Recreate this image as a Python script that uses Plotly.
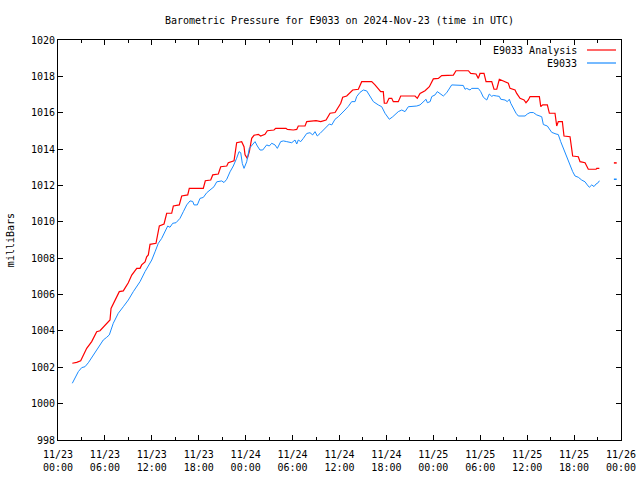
import pandas as pd
import plotly.graph_objects as go

# ---- data (hours since 2024-11-23 00:00 UTC, pressure in mb) ----
start = pd.Timestamp("2024-11-23 00:00")

analysis_hours = [1.83, 2.39, 2.90, 3.16, 3.67, 4.31, 4.95, 5.37, 5.79, 6.43, 6.65, 6.78, 7.29, 7.84,
                  8.35, 8.99, 9.43, 10.07, 10.49, 10.70, 11.13, 11.34, 11.55, 11.77, 12.53, 12.96,
                  13.56, 13.90, 14.54, 14.75, 15.51, 15.82, 16.59, 16.79, 18.58, 18.84, 19.53, 19.79,
                  20.50, 20.81, 21.58, 21.78, 22.51, 22.85, 23.49, 23.79, 23.92, 24.21, 24.47, 24.77,
                  25.07, 25.62, 25.92, 26.47, 26.77, 27.62, 27.84, 29.16, 29.33, 30.09, 30.53, 30.73,
                  31.59, 31.81, 33.00, 33.60, 34.28, 34.79, 35.43, 35.72, 36.16, 36.41, 36.92, 37.69,
                  38.41, 38.84, 40.12, 40.54, 40.96, 41.27, 41.60, 41.73, 42.04, 42.33, 42.68, 42.88,
                  43.52, 43.83, 45.66, 45.95, 46.30, 46.94, 47.49, 48.00, 48.64, 49.07, 50.56, 50.90,
                  52.48, 52.78, 53.46, 53.75, 53.97, 54.48, 54.74, 55.47, 55.76, 56.11, 56.44, 56.95,
                  57.59, 57.81, 58.45, 58.66, 59.09, 59.60, 59.85, 60.15, 60.37, 61.56, 61.74, 61.99,
                  62.58, 62.84, 63.56, 63.78, 63.98, 64.50, 64.71, 65.48, 65.70, 65.82, 66.54, 66.76,
                  67.40, 67.82, 68.81, 68.90, 69.23]
analysis_values = [1002.22, 1002.27, 1002.36, 1002.58, 1003.04, 1003.41, 1003.96, 1004.01, 1004.20,
                   1004.50, 1004.60, 1005.24, 1005.70, 1006.16, 1006.20, 1006.65, 1007.07, 1007.44,
                   1007.44, 1007.63, 1007.80, 1008.08, 1008.18, 1008.76, 1008.82, 1009.77, 1009.88,
                   1010.47, 1010.47, 1010.87, 1010.93, 1011.42, 1011.48, 1011.84, 1011.84, 1012.26,
                   1012.30, 1012.58, 1012.63, 1013.03, 1013.07, 1013.25, 1013.36, 1014.35, 1014.41,
                   1014.13, 1013.68, 1013.49, 1013.86, 1014.59, 1014.76, 1014.81, 1014.72, 1014.81,
                   1015.01, 1015.05, 1015.14, 1015.14, 1015.08, 1015.05, 1015.08, 1015.27, 1015.27,
                   1015.51, 1015.56, 1015.51, 1015.60, 1015.97, 1016.01, 1016.24, 1016.52, 1016.85,
                   1016.92, 1017.25, 1017.29, 1017.71, 1017.71, 1017.53, 1017.29, 1017.16, 1017.16,
                   1016.52, 1016.52, 1016.79, 1016.79, 1016.61, 1016.61, 1016.92, 1016.92, 1016.79,
                   1017.06, 1017.21, 1017.43, 1017.86, 1017.89, 1018.04, 1018.07, 1018.31, 1018.31,
                   1018.16, 1018.13, 1017.89, 1018.16, 1018.16, 1017.71, 1017.71, 1017.29, 1017.29,
                   1017.84, 1017.76, 1017.62, 1017.34, 1017.25, 1017.06, 1016.79, 1016.70, 1016.55,
                   1016.70, 1016.89, 1016.89, 1016.34, 1016.43, 1016.43, 1015.97, 1015.97, 1015.27,
                   1015.51, 1015.51, 1014.72, 1014.68, 1013.95, 1013.62, 1013.58, 1013.31, 1013.25,
                   1012.89, 1012.89, 1012.94, 1012.94]
analysis_last_hour = [71.27]
analysis_last_value = [1013.24]

obs_hours = [1.83, 2.17, 2.60, 3.03, 3.45, 3.88, 4.51, 5.15, 5.79, 6.23, 6.56, 7.07, 7.71, 8.35, 8.99,
             9.63, 10.49, 11.13, 11.34, 11.77, 11.99, 12.41, 12.83, 13.26, 13.68, 14.03, 14.32, 14.67,
             15.09, 15.60, 16.03, 16.46, 16.88, 17.23, 17.40, 17.82, 18.16, 18.58, 19.02, 19.44, 19.95,
             20.30, 20.94, 21.23, 21.58, 22.00, 22.42, 22.85, 23.15, 23.37, 23.57, 23.79, 24.13, 24.47,
             24.90, 25.20, 25.49, 25.83, 26.18, 26.69, 27.02, 27.33, 27.75, 28.05, 28.48, 28.82, 29.25,
             29.89, 30.31, 30.53, 30.73, 31.04, 31.37, 31.81, 32.23, 32.57, 32.87, 33.16, 33.51, 33.93,
             34.28, 34.70, 35.01, 35.43, 35.85, 36.28, 36.70, 37.13, 37.56, 37.99, 38.20, 38.62, 39.05,
             39.48, 39.90, 40.33, 40.96, 41.40, 41.82, 42.37, 42.81, 43.11, 43.52, 43.96, 44.38, 44.80,
             45.88, 46.30, 46.72, 47.07, 47.24, 47.59, 47.80, 48.22, 48.51, 48.86, 49.28, 49.71, 50.13,
             50.35, 51.83, 52.05, 52.27, 52.69, 52.91, 53.75, 54.06, 54.40, 54.83, 55.16, 55.47, 55.67,
             56.11, 56.44, 56.62, 57.17, 57.46, 57.72, 57.90, 58.23, 58.58, 58.87, 59.73, 60.02, 60.37,
             60.79, 61.22, 61.86, 62.07, 62.58, 62.92, 63.14, 63.69, 63.98, 64.29, 64.63, 64.97, 65.14,
             65.48, 65.82, 66.12, 66.54, 66.97, 67.40, 67.69, 67.95, 68.26, 68.55, 68.81, 69.10, 69.23]
obs_values = [1001.12, 1001.39, 1001.76, 1001.98, 1002.03, 1002.25, 1002.68, 1003.10, 1003.50, 1003.65,
              1003.78, 1004.42, 1004.97, 1005.33, 1005.70, 1006.16, 1006.71, 1007.26, 1007.40, 1007.72,
              1007.90, 1008.35, 1008.82, 1009.09, 1009.46, 1009.77, 1009.70, 1009.92, 1009.95, 1010.19,
              1010.56, 1010.93, 1011.15, 1011.12, 1010.93, 1010.93, 1011.29, 1011.34, 1011.60, 1011.75,
              1011.93, 1012.20, 1012.25, 1012.16, 1012.34, 1012.75, 1013.07, 1013.50, 1013.86, 1013.80,
              1013.21, 1012.94, 1013.30, 1014.04, 1014.23, 1014.41, 1014.17, 1013.95, 1013.95, 1014.23,
              1014.17, 1014.32, 1014.23, 1014.04, 1014.41, 1014.45, 1014.41, 1014.35, 1014.50, 1014.28,
              1014.50, 1014.41, 1014.59, 1014.86, 1014.90, 1014.78, 1014.96, 1014.72, 1014.86, 1015.05,
              1015.23, 1015.38, 1015.33, 1015.64, 1015.78, 1015.95, 1016.15, 1016.35, 1016.61, 1016.61,
              1016.89, 1017.12, 1017.25, 1017.20, 1016.89, 1016.61, 1016.43, 1016.33, 1015.97, 1015.64,
              1015.78, 1015.88, 1016.06, 1016.15, 1016.06, 1016.33, 1016.37, 1016.43, 1016.61, 1016.74,
              1016.55, 1016.61, 1016.89, 1016.98, 1017.16, 1017.06, 1016.92, 1017.10, 1017.43, 1017.53,
              1017.50, 1017.29, 1017.34, 1017.25, 1017.34, 1017.34, 1017.16, 1016.85, 1016.70, 1017.03,
              1016.90, 1016.95, 1016.92, 1016.90, 1016.74, 1016.70, 1016.61, 1016.74, 1016.52, 1016.24,
              1015.97, 1015.82, 1015.82, 1015.93, 1016.01, 1016.01, 1015.88, 1015.78, 1015.35, 1015.27,
              1015.05, 1014.92, 1014.83, 1014.80, 1014.41, 1014.04, 1013.68, 1013.40, 1013.13, 1012.76,
              1012.52, 1012.45, 1012.30, 1012.20, 1012.03, 1011.90, 1012.03, 1011.94, 1012.08, 1012.16,
              1012.26]
obs_last_hour = [71.27]
obs_last_value = [1012.34]

tick_hours = [0, 6, 12, 18, 24, 30, 36, 42, 48, 54, 60, 66, 72]
tick_labels = ["11/23<br>00:00", "11/23<br>06:00", "11/23<br>12:00", "11/23<br>18:00",
               "11/24<br>00:00", "11/24<br>06:00", "11/24<br>12:00", "11/24<br>18:00",
               "11/25<br>00:00", "11/25<br>06:00", "11/25<br>12:00", "11/25<br>18:00",
               "11/26<br>00:00"]
y_ticks = [998, 1000, 1002, 1004, 1006, 1008, 1010, 1012, 1014, 1016, 1018, 1020]

title_text = "Barometric Pressure for E9033 on 2024-Nov-23 (time in UTC)"
y_title = "milliBars"
name_analysis = "E9033 Analysis"
name_obs = "E9033"

RED = "#ff0000"
BLUE = "#1a8cff"
FONT = "DejaVu Sans Mono"


def to_time(hours):
    return [start + pd.Timedelta(hours=h) for h in hours]


fig = go.Figure()
fig.add_trace(go.Scatter(x=to_time(analysis_hours), y=analysis_values, mode="lines",
                         name=name_analysis, line=dict(color=RED, width=1.2)))
fig.add_trace(go.Scatter(x=to_time(obs_hours), y=obs_values, mode="lines",
                         name=name_obs, line=dict(color=BLUE, width=1.0)))
fig.add_trace(go.Scatter(x=to_time(analysis_last_hour), y=analysis_last_value, mode="markers",
                         showlegend=False,
                         marker=dict(symbol="line-ew", size=2, line=dict(color=RED, width=1.5))))
fig.add_trace(go.Scatter(x=to_time(obs_last_hour), y=obs_last_value, mode="markers",
                         showlegend=False,
                         marker=dict(symbol="line-ew", size=2, line=dict(color=BLUE, width=1.5))))

# gnuplot-style legend: text right-aligned, sample line to its right
legend_rows = [(name_analysis, RED, 0.975), (name_obs, BLUE, 0.9425)]
for label, color, yy in legend_rows:
    fig.add_annotation(x=0.9254, y=yy, xref="paper", yref="paper", text=label, showarrow=False,
                       xanchor="right", yanchor="middle", font=dict(family=FONT, size=10, color="black"))
    fig.add_shape(type="line", xref="paper", yref="paper", x0=0.9396, x1=0.9911, y0=yy, y1=yy,
                  line=dict(color=color, width=1.2))

fig.add_annotation(x=-0.085, y=0.5, xref="paper", yref="paper", text=y_title, showarrow=False,
                   textangle=-90, xanchor="center", yanchor="middle",
                   font=dict(family=FONT, size=10, color="black"))

fig.update_layout(
    width=640, height=480,
    margin=dict(l=58, r=19, t=40, b=40, autoexpand=False),
    paper_bgcolor="white", plot_bgcolor="white",
    showlegend=False,
    font=dict(family=FONT, size=10, color="black"),
    title=dict(text=title_text, x=0.5, xref="paper", xanchor="center",
               y=1 - 20 / 480, yref="container", yanchor="middle",
               font=dict(family=FONT, size=10, color="black")),
    xaxis=dict(range=[start, start + pd.Timedelta(hours=72)], tickmode="array",
               tickvals=to_time(tick_hours), ticktext=tick_labels, automargin=False,
               showgrid=False, zeroline=False, showline=True, linecolor="black", linewidth=1,
               mirror="allticks", ticks="inside", ticklen=5, tickcolor="black",
               ticklabelstandoff=5,
               minor=dict(dtick=3 * 3600 * 1000, ticks="inside", ticklen=3, tickcolor="black",
                          showgrid=False),
               tickfont=dict(family=FONT, size=10)),
    yaxis=dict(range=[998, 1020], tickmode="array", tickvals=y_ticks, automargin=False,
               ticktext=[str(v) for v in y_ticks],
               showgrid=False, zeroline=False, showline=True, linecolor="black", linewidth=1,
               mirror="allticks", ticks="inside", ticklen=5, tickcolor="black",
               tickfont=dict(family=FONT, size=10)),
)

fig.write_html("out.html", config={"displayModeBar": False, "staticPlot": True})

# remove the browser's default page margin so the figure sits at the window's corner
with open("out.html", encoding="utf-8") as f:
    html = f.read()
html = html.replace("<head>", "<head><style>html,body{margin:0;padding:0;overflow:hidden;}</style>", 1)
with open("out.html", "w", encoding="utf-8") as f:
    f.write(html)
